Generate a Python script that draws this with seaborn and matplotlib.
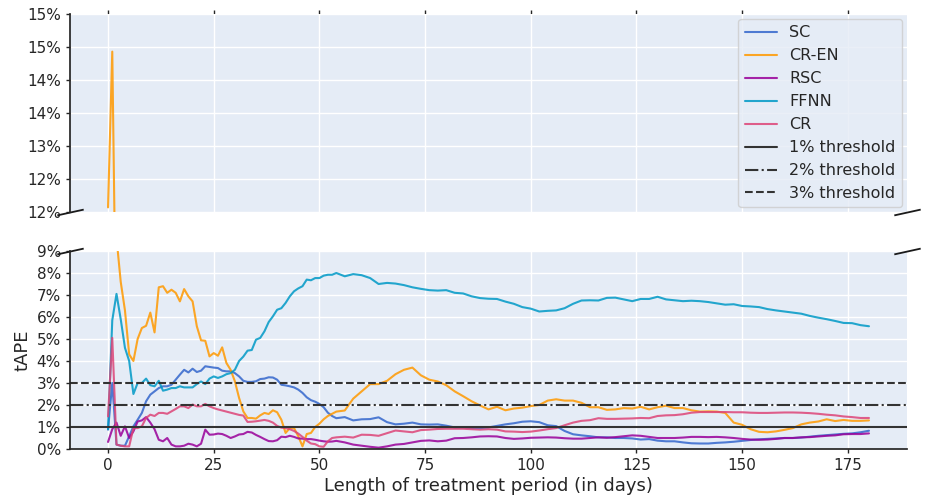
import numpy as np
import pandas as pd
import matplotlib
matplotlib.use("Agg")
import matplotlib.pyplot as plt
from matplotlib.ticker import PercentFormatter
import seaborn as sns

# 天数：前55天逐日，之后每2天一个点
days = list(range(0, 55)) + list(range(56, 181, 2))

# tAPE（单位 %）
sc = [0.88, 3.0, 0.2, 0.15, 0.15, 0.58, 1.03, 1.33, 1.64, 2.17, 2.47, 2.62, 2.77, 2.85, 2.85, 2.92, 3.15, 3.38, 3.6, 3.48,
      3.65, 3.5, 3.56, 3.76, 3.73, 3.7, 3.68, 3.56, 3.53, 3.53, 3.45, 3.3, 3.1, 3.05, 3.05, 3.08, 3.18, 3.2, 3.26, 3.25,
      3.15, 2.92, 2.89, 2.85, 2.8, 2.7, 2.55, 2.35, 2.22, 2.15, 2.05, 1.9, 1.65, 1.5, 1.4,
      1.45, 1.3, 1.35, 1.36, 1.44, 1.22, 1.12, 1.15, 1.2, 1.12, 1.11, 1.12, 1.06, 0.98, 0.98, 0.95, 0.95, 0.98, 1.05, 1.12,
      1.17, 1.24, 1.26, 1.22, 1.08, 1.04, 0.82, 0.67, 0.62, 0.58, 0.53, 0.53, 0.5, 0.5, 0.48, 0.43, 0.45, 0.38, 0.35, 0.35,
      0.3, 0.26, 0.25, 0.25, 0.28, 0.3, 0.33, 0.37, 0.41, 0.44, 0.46, 0.48, 0.5, 0.5, 0.52, 0.56, 0.6, 0.63, 0.66, 0.69,
      0.71, 0.76, 0.83]
cr_en = [12.07, 14.43, 9.6, 7.6, 6.3, 4.3, 4.0, 5.0, 5.5, 5.6, 6.2, 5.3, 7.35, 7.4, 7.1, 7.24, 7.1, 6.71, 7.27, 6.94,
         6.71, 5.58, 4.94, 4.92, 4.21, 4.36, 4.24, 4.62, 3.91, 3.6, 3.08, 2.32, 1.71, 1.41, 1.41, 1.38, 1.53, 1.64, 1.59,
         1.76, 1.67, 1.33, 0.73, 0.95, 0.95, 0.58, 0.12, 0.68, 0.73, 1.0, 1.15, 1.35, 1.5, 1.6, 1.7,
         1.75, 2.29, 2.62, 2.95, 2.95, 3.1, 3.4, 3.6, 3.7, 3.35, 3.15, 3.07, 2.9, 2.62, 2.4, 2.17, 1.98, 1.8, 1.92, 1.76,
         1.84, 1.88, 1.95, 2.0, 2.2, 2.26, 2.2, 2.2, 2.1, 1.9, 1.9, 1.78, 1.8, 1.86, 1.84, 1.92, 1.8, 1.9, 1.97, 1.86,
         1.86, 1.76, 1.7, 1.71, 1.7, 1.64, 1.2, 1.1, 0.9, 0.78, 0.76, 0.8, 0.87, 0.95, 1.12, 1.2, 1.25, 1.35, 1.27, 1.32,
         1.28, 1.28, 1.3]
rsc = [0.32, 0.9, 1.2, 0.6, 1.03, 0.5, 0.8, 1.25, 1.3, 1.45, 1.2, 0.9, 0.42, 0.35, 0.5, 0.2, 0.12, 0.12, 0.15, 0.24,
       0.2, 0.12, 0.24, 0.88, 0.65, 0.66, 0.7, 0.68, 0.6, 0.5, 0.57, 0.66, 0.68, 0.78, 0.75, 0.64, 0.55, 0.45, 0.36, 0.35,
       0.4, 0.56, 0.54, 0.6, 0.55, 0.48, 0.47, 0.45, 0.45, 0.42, 0.38, 0.35, 0.33, 0.34, 0.37,
       0.3, 0.2, 0.15, 0.1, 0.06, 0.12, 0.2, 0.23, 0.3, 0.37, 0.39, 0.35, 0.38, 0.49, 0.5, 0.53, 0.57, 0.58, 0.57, 0.5,
       0.46, 0.48, 0.51, 0.52, 0.53, 0.52, 0.49, 0.47, 0.47, 0.5, 0.53, 0.51, 0.54, 0.58, 0.62, 0.6, 0.55, 0.5, 0.5, 0.5,
       0.52, 0.55, 0.55, 0.54, 0.55, 0.53, 0.5, 0.46, 0.43, 0.42, 0.43, 0.46, 0.5, 0.5, 0.53, 0.54, 0.57, 0.6, 0.62, 0.67,
       0.68, 0.68, 0.71]
ffnn = [0.9, 5.85, 7.05, 5.9, 4.6, 4.0, 2.5, 3.0, 3.0, 3.2, 2.9, 2.85, 3.1, 2.65, 2.7, 2.77, 2.77, 2.85, 2.8, 2.8,
        2.8, 2.95, 3.07, 2.95, 3.2, 3.3, 3.23, 3.3, 3.4, 3.45, 3.6, 4.0, 4.2, 4.47, 4.5, 4.97, 5.05, 5.35, 5.77, 6.03,
        6.33, 6.4, 6.64, 6.94, 7.17, 7.3, 7.4, 7.7, 7.67, 7.77, 7.77, 7.88, 7.92, 7.92, 8.0,
        7.85, 7.95, 7.9, 7.77, 7.5, 7.55, 7.52, 7.45, 7.35, 7.28, 7.22, 7.2, 7.22, 7.1, 7.07, 6.94, 6.86, 6.83, 6.82, 6.7,
        6.6, 6.45, 6.38, 6.25, 6.28, 6.3, 6.4, 6.6, 6.75, 6.76, 6.75, 6.87, 6.88, 6.8, 6.72, 6.82, 6.82, 6.92, 6.8, 6.76,
        6.72, 6.74, 6.72, 6.68, 6.62, 6.56, 6.58, 6.5, 6.48, 6.45, 6.36, 6.3, 6.25, 6.2, 6.15, 6.05, 5.97, 5.9, 5.82, 5.73,
        5.72, 5.63, 5.58]
cr = [1.48, 5.05, 0.2, 0.15, 0.12, 0.12, 0.95, 0.95, 1.03, 1.41, 1.56, 1.5, 1.64, 1.64, 1.6, 1.71, 1.82, 1.94, 1.94, 1.86,
      2.02, 1.94, 1.94, 2.05, 1.94, 1.86, 1.8, 1.75, 1.7, 1.65, 1.6, 1.55, 1.52, 1.23, 1.24, 1.26, 1.29, 1.32, 1.28, 1.2,
      1.05, 0.97, 0.95, 0.9, 0.82, 0.7, 0.55, 0.38, 0.25, 0.22, 0.12, 0.1, 0.35, 0.5, 0.53,
      0.56, 0.52, 0.65, 0.64, 0.6, 0.72, 0.84, 0.8, 0.76, 0.86, 0.88, 0.91, 0.92, 0.92, 0.92, 0.9, 0.88, 0.9, 0.88, 0.8,
      0.79, 0.77, 0.79, 0.84, 0.9, 0.95, 1.08, 1.2, 1.28, 1.31, 1.4, 1.37, 1.37, 1.38, 1.39, 1.41, 1.4, 1.5, 1.53, 1.54,
      1.58, 1.65, 1.68, 1.68, 1.68, 1.68, 1.67, 1.67, 1.65, 1.64, 1.64, 1.65, 1.66, 1.66, 1.65, 1.63, 1.6, 1.56, 1.53, 1.48,
      1.45, 1.41, 1.41]

models = ["SC", "CR-EN", "RSC", "FFNN", "CR"]
colors = ["#3366CC", "#FF9900", "#990099", "#0099C6", "#DD4477"]
thresholds = [1, 2, 3]
threshold_styles = ["-", "-.", "--"]
top_ticks = [12.0, 12.5, 13.0, 13.5, 14.0, 14.5, 15.0]
top_tick_labels = ["12%", "12%", "13%", "14%", "14%", "15%", "15%"]

df = pd.concat([pd.DataFrame({"day": days, "tAPE": v, "model": m})
                for m, v in zip(models, [sc, cr_en, rsc, ffnn, cr])], ignore_index=True)

sns.set_theme(style="darkgrid", rc={
    "axes.facecolor": "#E5ECF6", "grid.color": "white", "axes.edgecolor": "#262626",
    "xtick.bottom": True, "ytick.left": True, "xtick.major.size": 3, "ytick.major.size": 3,
    "xtick.major.width": 1, "ytick.major.width": 1,
})
plt.rcParams["font.family"] = ["DejaVu Sans"]

fig, (ax_top, ax_bot) = plt.subplots(2, 1, sharex=True, figsize=(9.37, 5), dpi=100)
fig.subplots_adjust(left=0.0747, right=0.968, top=0.972, bottom=0.102, hspace=0.197)

palette = dict(zip(models, colors))
for ax in (ax_top, ax_bot):
    sns.lineplot(data=df, x="day", y="tAPE", hue="model", hue_order=models, palette=palette,
                 lw=1.5, alpha=0.85, ax=ax, legend=(ax is ax_bot))

for t, ls in zip(thresholds, threshold_styles):
    ax_bot.axhline(t, color="#333333", lw=1.5, ls=ls, label=f"{t}% threshold")

ax_top.set_ylim(12, 15)
ax_bot.set_ylim(0, 9)
ax_top.set_yticks(top_ticks)
ax_top.set_yticklabels(top_tick_labels)
ax_bot.set_yticks(range(0, 10))
ax_bot.yaxis.set_major_formatter(PercentFormatter(xmax=100, decimals=0))

# 断轴样式
for s in ["top", "right", "bottom"]:
    ax_top.spines[s].set_visible(False)
for s in ["top", "right"]:
    ax_bot.spines[s].set_visible(False)
ax_top.xaxis.tick_top()
ax_top.tick_params(labeltop=False)
ax_bot.xaxis.tick_bottom()
ax_top.set_xlabel("")
ax_top.set_ylabel("")
ax_bot.set_xlabel("Length of treatment period (in days)", fontsize=13, labelpad=3)
ax_bot.set_ylabel("tAPE", fontsize=13)

d = 0.22
kw = dict(marker=[(-1, -d), (1, d)], markersize=19, linestyle="none",
          color="k", mec="k", mew=1.3, clip_on=False)
ax_top.plot([0, 1], [0, 0], transform=ax_top.transAxes, **kw)
ax_bot.plot([0, 1], [1, 1], transform=ax_bot.transAxes, **kw)

handles, labels = ax_bot.get_legend_handles_labels()
ax_bot.get_legend().remove()
ax_top.legend(handles, labels, loc="upper right", fontsize=11.5, borderaxespad=0.3)

fig.savefig("out.png", dpi=100)
